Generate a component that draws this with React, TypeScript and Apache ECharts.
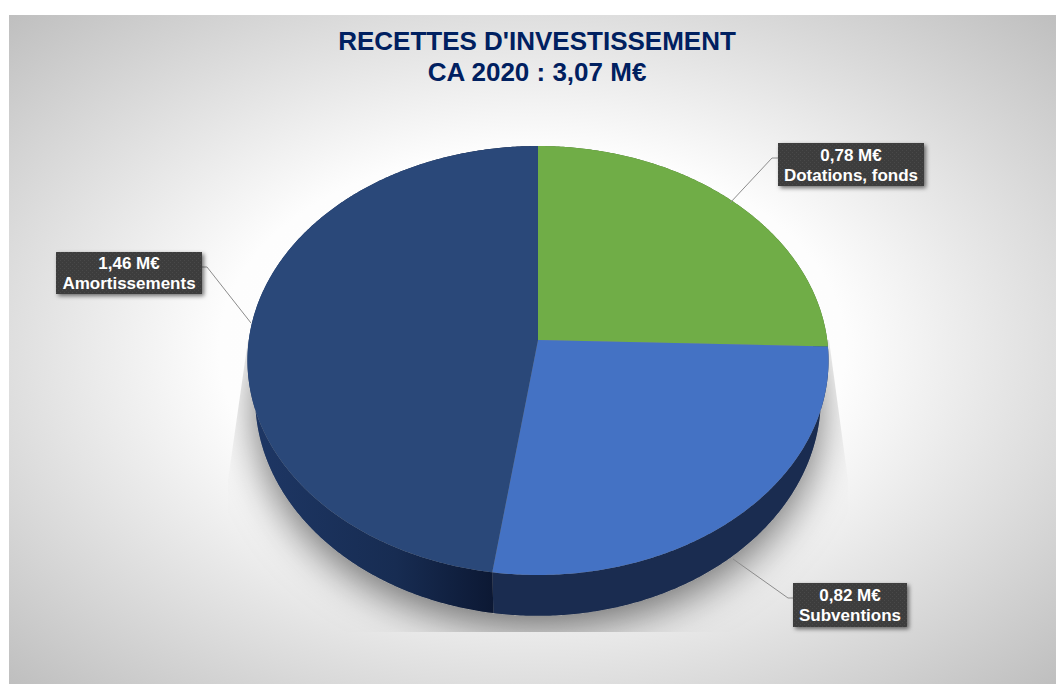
import React, { useEffect, useRef } from "react";
import * as echarts from "echarts";

const categories = ["Dotations, fonds", "Subventions", "Amortissements"];
const values = [0.78, 0.82, 1.46];
const titleLines = ["RECETTES D'INVESTISSEMENT", "CA 2020 : 3,07 M€"];
const unit = "M€";

const topColors = ["#70AD47", "#4472C4", "#2A4879"];
const sideColors: any[] = [
  "#3f6a2a",
  "#1A2C50",
  {
    type: "linear", x: 248, y: 0, x2: 494, y2: 0, global: true,
    colorStops: [
      { offset: 0, color: "#1E3765" },
      { offset: 0.6, color: "#172C52" },
      { offset: 1, color: "#0C1833" },
    ],
  },
];
const boxes = [
  { x: 778, y: 143, w: 146, h: 43, line: [[730, 203], [772, 158], [778, 158]] },
  { x: 793, y: 583, w: 114, h: 44, line: [[733, 559], [788, 598], [793, 598]] },
  { x: 56, y: 252, w: 146, h: 42, line: [[251, 323], [207, 267], [202, 267]] },
];

const K = -0.0956;
const topDisc = { cx: 538, cy: 340, a: 212.5, b: 289.2 };
const lowDisc = { cx: 538, cy: 377, a: 216, b: 281.6 };
const project = (d: typeof topDisc, deg: number) => {
  const t = (deg * Math.PI) / 180;
  const u = Math.sin(t);
  const v = -Math.cos(t);
  const w = 1 + K * v;
  return [d.cx + (d.b * u) / w, d.cy + (d.a * v) / w];
};
const total = values.reduce((s, v) => s + v, 0);
const startAngle = (i: number) => (values.slice(0, i).reduce((s, v) => s + v, 0) / total) * 360;
const arc = (d: typeof topDisc, from: number, to: number) => {
  const pts: number[][] = [];
  const n = Math.max(2, Math.ceil(Math.abs(to - from) * 2));
  for (let i = 0; i <= n; i++) pts.push(project(d, from + ((to - from) * i) / n));
  return pts;
};
const fmt = (v: number) => `${v.toFixed(2).replace(".", ",")} ${unit}`;

function makeTexture() {
  const c = document.createElement("canvas");
  c.width = 4;
  c.height = 4;
  const g = c.getContext("2d")!;
  g.fillStyle = "#3E3E3E";
  g.fillRect(0, 0, 4, 4);
  g.fillStyle = "#4A4A4A";
  g.fillRect(0, 0, 1, 1);
  g.fillRect(2, 2, 1, 1);
  return c;
}

export default function App() {
  const ref = useRef<HTMLDivElement>(null);
  useEffect(() => {
    const chart = echarts.init(ref.current!, undefined, { renderer: "svg" });
    const texture = makeTexture();
    chart.setOption({
      animation: false,
      title: {
        text: titleLines.join("\n"),
        left: 537,
        top: 25,
        padding: 0,
        textAlign: "center",
        textStyle: {
          fontFamily: "Liberation Sans",
          fontWeight: "bold",
          fontSize: 26,
          lineHeight: 31,
          color: "#002060",
        },
      },
      graphic: [
        {
          type: "rect",
          z: -10,
          silent: true,
          scaleY: 0.64,
          y: 15,
          shape: { x: 9, y: 0, width: 1047, height: 1048 },
          style: {
            fill: {
              type: "radial", x: 532, y: 522, r: 745, global: true,
              colorStops: [
                { offset: 0, color: "#FFFFFF" },
                { offset: 0.42, color: "#FDFDFD" },
                { offset: 1, color: "#BEBEBE" },
              ],
            },
          },
        },
      ],
      series: [
        {
          type: "custom",
          coordinateSystem: "none",
          silent: true,
          z: 1,
          data: [0],
          renderItem: () => ({
            type: "polygon",
            clipPath: {
              type: "polygon",
              shape: { points: [[248, 340], [228, 480], [228, 632], [848, 632], [848, 480], [829, 340]] },
            },
            shape: { points: arc(lowDisc, 0, 360) },
            style: {
              fill: "#8a8a8a",
              shadowBlur: 42,
              shadowOffsetY: 12,
              shadowColor: "rgba(0,0,0,0.55)",
            },
          }),
        },
        {
          type: "custom",
          coordinateSystem: "none",
          silent: true,
          z: 2,
          data: values,
          renderItem: (p: any) => {
            const i = p.dataIndex;
            const s = startAngle(i);
            const e = startAngle(i + 1);
            return {
              type: "polygon",
              shape: { points: [...arc(topDisc, s, e), ...arc(lowDisc, e, s)] },
              style: { fill: sideColors[i] },
            };
          },
        },
        {
          type: "custom",
          coordinateSystem: "none",
          silent: true,
          z: 3,
          data: values,
          renderItem: (p: any) => {
            const i = p.dataIndex;
            return {
              type: "polygon",
              shape: {
                points: [[topDisc.cx, topDisc.cy], ...arc(topDisc, startAngle(i), startAngle(i + 1))],
              },
              style: { fill: topColors[i] },
            };
          },
        },
        {
          type: "custom",
          coordinateSystem: "none",
          silent: true,
          z: 4,
          data: values,
          renderItem: (p: any) => {
            const i = p.dataIndex;
            const b = boxes[i];
            return {
              type: "group",
              children: [
                {
                  type: "polyline",
                  shape: { points: b.line },
                  style: { stroke: "#8C8C8C", lineWidth: 1, fill: "none" },
                },
                {
                  type: "rect",
                  shape: { x: b.x, y: b.y, width: b.w, height: b.h },
                  style: {
                    fill: { image: texture, repeat: "repeat" },
                    shadowBlur: 4,
                    shadowOffsetX: 2,
                    shadowOffsetY: 2,
                    shadowColor: "rgba(0,0,0,0.55)",
                  },
                },
                {
                  type: "text",
                  x: b.x + b.w / 2,
                  y: b.y + b.h / 2 + 0.5,
                  style: {
                    text: `${fmt(values[i])}\n${categories[i]}`,
                    fill: "#FFFFFF",
                    fontFamily: "Liberation Sans",
                    fontWeight: "bold",
                    fontSize: 17,
                    lineHeight: 20,
                    align: "center",
                    verticalAlign: "middle",
                  },
                },
              ],
            };
          },
        },
      ],
    });
    return () => chart.dispose();
  }, []);
  return <div ref={ref} style={{ position: "absolute", left: 0, top: 0, width: 1056, height: 684 }} />;
}
